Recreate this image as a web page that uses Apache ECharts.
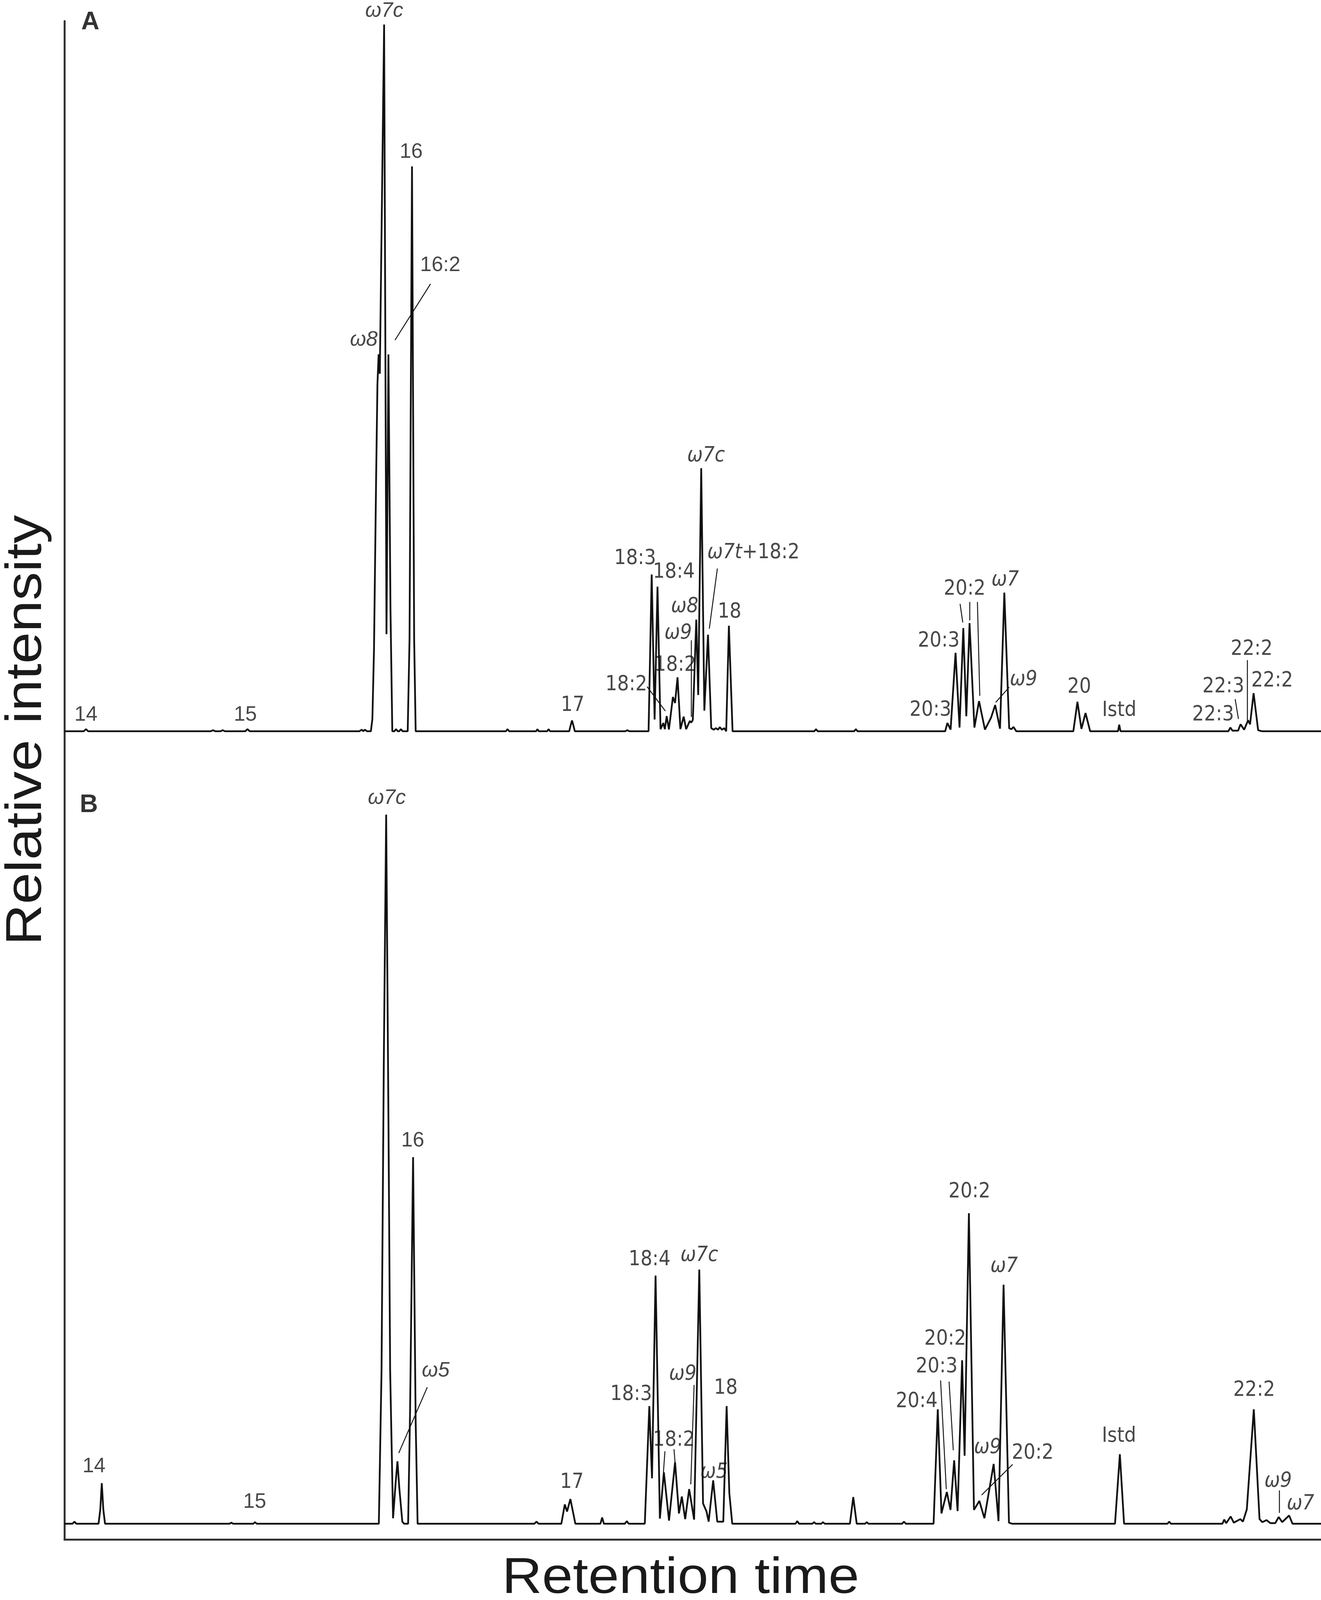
<!DOCTYPE html>
<html>
<head>
<meta charset="utf-8">
<title>Chromatograms A / B</title>
<script src="https://cdn.jsdelivr.net/npm/echarts@6/dist/echarts.min.js"></script>
<style>
  html, body { margin: 0; padding: 0; background: #fff; overflow: hidden; }
  #main { width: 100vw; height: 100vh; }
</style>
</head>
<body>
<div id="main"></div>
<script>
// traces: [retention position, intensity above baseline]
var traceA = [
  [60,0],[78,0],[80,2],[82,0],[196,0],[198,1],[200,0],[205,0],[207,1],[209,0],[228,0],[230,2],[232,0],
  [334,0],[336,1.5],[337.5,0],[339,1.5],[341,0],
  [344.6,0],[346,12],[347.5,80],[349.5,250],[350.7,340],[351.8,369],[352.9,350],[356.9,692],[359.1,95],
  [360.9,369],[362.8,120],[364.5,0],[366.5,0],[368,2],[369.5,0],[371,0],[372.5,2],[374,0],
  [378.8,0],[380.5,90],[382.8,553],[384.8,90],[386.2,0],
  [470,0],[471.5,2],[473,0],[498,0],[499.3,2],[500.5,0],[508.3,0],[509.6,2],[511,0],
  [528.8,0],[530.2,6],[531.4,10.5],[532.6,6],[534,0],[581,0],[582.8,1],[584.5,0],
  [602.5,0],[605.4,153.4],[608.1,11.5],[610.8,141.6],[613.6,2],[616.2,8],[617.6,2],[619.3,14.8],[621.4,1.7],
  [625.1,33.5],[627.1,27.6],[629.4,52.8],[632.1,2],[635.1,14.3],[637.4,2],[640.8,10],[642.2,8.5],[643.6,11],
  [646.8,109.2],[648.6,35.5],[651.4,257.6],[654.3,20.2],[657.7,94.5],[660.7,3],[663,1.5],[665,3],[667,1.5],
  [668.6,4],[670.6,1.5],[672.8,3],[674.6,0],[677.1,103.3],[680.5,0],
  [756.5,0],[758,2],[759.5,0],[793.5,0],[795,2],[796.5,0],
  [878,0],[880,8.1],[883,1.6],[887.6,76.8],[891.3,3.6],[894.8,101],[897.6,14.6],[900.6,105.9],[905.1,3.6],
  [909.4,29.5],[914.9,1.6],[920.6,13.3],[924.4,25.6],[928.9,2.5],[932.9,135.7],[937.4,2.9],[939.5,2],[941.4,4.2],[944,0],
  [997,0],[1000.8,28.8],[1004.5,2.3],[1008.3,17.8],[1012.6,0],[1038.5,0],[1039.6,6.4],[1040.8,0],
  [1141,0],[1142.8,3.6],[1144.8,0.5],[1150,0.5],[1152.3,6.8],[1155.6,1.5],[1159.3,10.7],[1161.1,6.8],
  [1164.4,37.3],[1168.6,1],[1172,0],[1227,0]
];

var traceB = [
  [60,0],[67.5,0],[69.2,2],[71,0],[91.7,0],[93.3,14],[94.7,39.7],[96.1,14],[97.7,0],
  [213.5,0],[215,1],[216.5,0],[235.5,0],[237,1.5],[238.5,0],
  [352,0],[354.5,150],[356.6,450],[358.8,694.2],[360.9,400],[362.5,150],[365.2,5.3],[367.6,40],[369.3,61.1],
  [371,35],[373.8,2],[375.5,0],[379.2,0],[381,110],[383.8,358.9],[386.2,100],[388,0],
  [496.5,0],[498.4,2],[500.3,0],[521.5,0],[524.7,18.8],[526.8,11.9],[529.9,24.1],[534.5,0],
  [557.8,0],[559.4,6],[561,0],[580.5,0],[582.3,2.5],[584,0],
  [599,0],[603.2,115.1],[605.7,44.4],[609,242.9],[613,5],[616.7,50.3],[621.5,3],[627.1,60.1],[630.7,10],
  [633.4,26.6],[636.5,4.5],[640.2,33.9],[644.8,4],[649.6,248.8],[653.1,19.8],[656.3,12],[658.3,2],
  [662.5,42.4],[666.3,2],[671.9,2],[675,115.1],[677.5,30],[680.2,0],
  [739,0],[740.6,2.5],[742.2,0],[754.7,0],[756.2,1.5],[757.7,0],[763,0],[764.5,1.5],[766,0],
  [789.5,0],[792.6,26],[795.8,0],[803.6,0],[805.1,1.5],[806.6,0],[838,0],[839.7,2],[841.4,0],
  [867.2,0],[871.1,112],[874.5,10],[879.5,31],[882.9,13.5],[886.3,62],[889.5,12.3],[893.7,160],[896,66.5],
  [900,304],[904.7,13.5],[909.7,22.3],[914.4,5.4],[923,58.5],[927.5,2.5],[932.2,234],[937.2,1],[940,0],
  [1035.7,0],[1040.2,68],[1044.1,0],[1084.5,0],[1086,2],[1087.5,0],
  [1135.5,0],[1137.1,4],[1139,0.5],[1143.1,7],[1146,1],[1152.1,4.5],[1154.5,2],[1158.1,14],[1164.6,112],
  [1169.9,4.5],[1172.5,1.5],[1176.4,3.5],[1180,0.5],[1184.5,0.5],[1187.7,6.5],[1191,1.5],[1197.4,8],
  [1200.5,0],[1227,0]
];

// peak names and where they sit (data coords)
var namesA = [
  ['A',84,694],['ω7c',357,705],['16',382,567],['16:2',409,456],['ω8',338,383],['14',80,16],['15',228,16],
  ['17',532,25],['18:3',590,169],['18:4',626,155.4],['ω7c',655.9,269.4],['ω7t+18:2',657,174.6,'left'],
  ['ω8',636,122],['ω9',630,96],['18:2',627.2,64.6],['18:2',581.8,45.3],['18',677.7,116.7],
  ['20:3',872,88.4],['20:3',864.3,20.4],['20:2',896,139],['ω7',933.7,148],['ω9',950.7,50.5],
  ['20',1002.5,43],['Istd',1039.6,20.2],['22:2',1162.6,80.4],['22:3',1136.3,43.5],['22:2',1181.6,49.3],
  ['22:3',1126.8,15.9]
];
var namesB = [
  ['B',82.7,703.6],['ω7c',359.4,710.3],['16',383.5,375],['ω5',404.8,149.7],['14',87.5,55.8],['15',236.7,21],
  ['17',531.3,40.4],['18:4',603.4,258.2],['ω7c',649.6,262.6],['18:3',586.3,126.5],['ω9',634.2,146.2],
  ['18',674.2,132.4],['18:2',626,81.7],['ω5',663.3,50.3],['20:2',900.5,324.7],['ω7',932.7,251.9],
  ['20:2',878,180.6],['20:3',870.1,153.6],['20:4',851.5,119.3],['ω9',917.5,74.2],['20:2',959.2,69.1],
  ['Istd',1039.4,85.3],['22:2',1164.9,130.4],['ω9',1187.2,41.4],['ω7',1207.9,19.4]
];

// leader lines [x1, y1, x2, y2]
var leadersA = [
  [400,438,367,383],[601.1,43.7,618.1,19.8],[642,89,642,14],[666.4,159.3,658.9,100.4],
  [891.8,124.7,894.3,106.5],[900.6,126.6,900.6,108.5],[907.9,126.6,910.1,34.7],
  [937.4,43.1,924.9,28.2],[1158.6,69.6,1158.6,10.7],[1147.3,31.4,1150.3,12]
];
var leadersB = [
  [397,133.6,370.5,69.2],[644.8,135.8,641.7,38.5],[617.7,70.9,616.3,50.3],[626.1,72.9,627.1,60.1],
  [873.7,140.2,879,33.8],[881.6,139,885.5,71.9],[940.6,58,911.8,28],[1188.2,32.6,1188.2,10.6]
];

var el = document.getElementById('main');
// the figure was laid out on a 3383 x 4319 sheet; scale to whatever the page gives
var sx = el.clientWidth / 3383, sy = el.clientHeight / 4319, sf = Math.min(sx, sy);

var ink = '#1a1a1a';
var wide = '"Liberation Sans", Arial, sans-serif';
var narrow = '"Liberation Sans Narrow", "Arial Narrow", "DejaVu Sans Condensed", sans-serif';
var rich = {
  w: { fontFamily: wide, fontSize: 56 * sf, color: ink },
  wi: { fontFamily: wide, fontSize: 56 * sf, fontStyle: 'italic', color: ink },
  n: { fontFamily: narrow, fontSize: 56 * sf, color: ink },
  ni: { fontFamily: narrow, fontSize: 56 * sf, fontStyle: 'italic', color: ink },
  p: { fontFamily: wide, fontSize: 68 * sf, fontWeight: 900, color: '#000' }
};

function fmt(text, kind) {
  if (text.charAt(0) === 'ω') {
    var parts = text.split('+');
    return '{' + kind + 'i|' + parts[0] + '}' + (parts[1] ? '{' + kind + '|+' + parts[1] + '}' : '');
  }
  return '{' + kind + '|' + text + '}';
}

function labelSeries(list, idx) {
  return {
    type: 'scatter', xAxisIndex: idx, yAxisIndex: idx, symbolSize: 1, clip: false, silent: true,
    itemStyle: { color: 'rgba(0,0,0,0)' },
    data: list.map(function (l) {
      var kind = (l[0] === 'A' || l[0] === 'B') ? 'p' : (l[1] < 450 ? 'w' : 'n');
      return {
        value: [l[1], l[2]],
        label: { show: true, position: 'inside', align: l[3] || 'center', verticalAlign: 'middle',
                 formatter: fmt(l[0], kind), rich: rich }
      };
    })
  };
}

function leaderSeries(list, idx) {
  return {
    type: 'lines', coordinateSystem: 'cartesian2d', xAxisIndex: idx, yAxisIndex: idx, silent: true,
    lineStyle: { color: ink, width: 2.5, opacity: 1 },
    data: list.map(function (l) { return { coords: [[l[0], l[1]], [l[2], l[3]]] }; })
  };
}

function traceSeries(data, idx) {
  return {
    type: 'line', xAxisIndex: idx, yAxisIndex: idx, data: data, symbol: 'none', silent: true,
    lineStyle: { color: '#111', width: 4.5 }
  };
}

var axisLine = { show: true, onZero: false, lineStyle: { color: '#333', width: 5 } };
var noAxisBits = { axisTick: { show: false }, axisLabel: { show: false }, splitLine: { show: false } };

var chart = echarts.init(el);
chart.setOption({
  backgroundColor: '#fff',
  animation: false,
  grid: [
    { left: 165 * sx, right: 0, top: 57 * sy, height: 1983 * sy },
    { left: 165 * sx, right: 0, top: 2040 * sy, height: 2116 * sy }
  ],
  xAxis: [
    Object.assign({ gridIndex: 0, type: 'value', min: 60, max: 1227, axisLine: { show: false } }, noAxisBits),
    Object.assign({ gridIndex: 1, type: 'value', min: 60, max: 1227, axisLine: axisLine }, noAxisBits)
  ],
  yAxis: [
    Object.assign({ gridIndex: 0, type: 'value', min: -24, max: 695.3, axisLine: axisLine }, noAxisBits),
    Object.assign({ gridIndex: 1, type: 'value', min: -15.6, max: 751.9, axisLine: axisLine }, noAxisBits)
  ],
  graphic: [
    { type: 'text', x: 1743 * sx, y: 4262 * sy, scaleX: 1.1,
      style: { text: 'Retention time', font: (136 * sf) + 'px ' + wide, fill: ink, align: 'center', verticalAlign: 'middle' } },
    { type: 'text', x: 69 * sx, y: 1971 * sy, rotation: Math.PI / 2, scaleX: 1.13,
      style: { text: 'Relative intensity', font: (136 * sf) + 'px ' + wide, fill: ink, align: 'center', verticalAlign: 'middle' } }
  ],
  series: [
    traceSeries(traceA, 0),
    traceSeries(traceB, 1),
    leaderSeries(leadersA, 0),
    leaderSeries(leadersB, 1),
    labelSeries(namesA, 0),
    labelSeries(namesB, 1)
  ]
});
</script>
</body>
</html>
